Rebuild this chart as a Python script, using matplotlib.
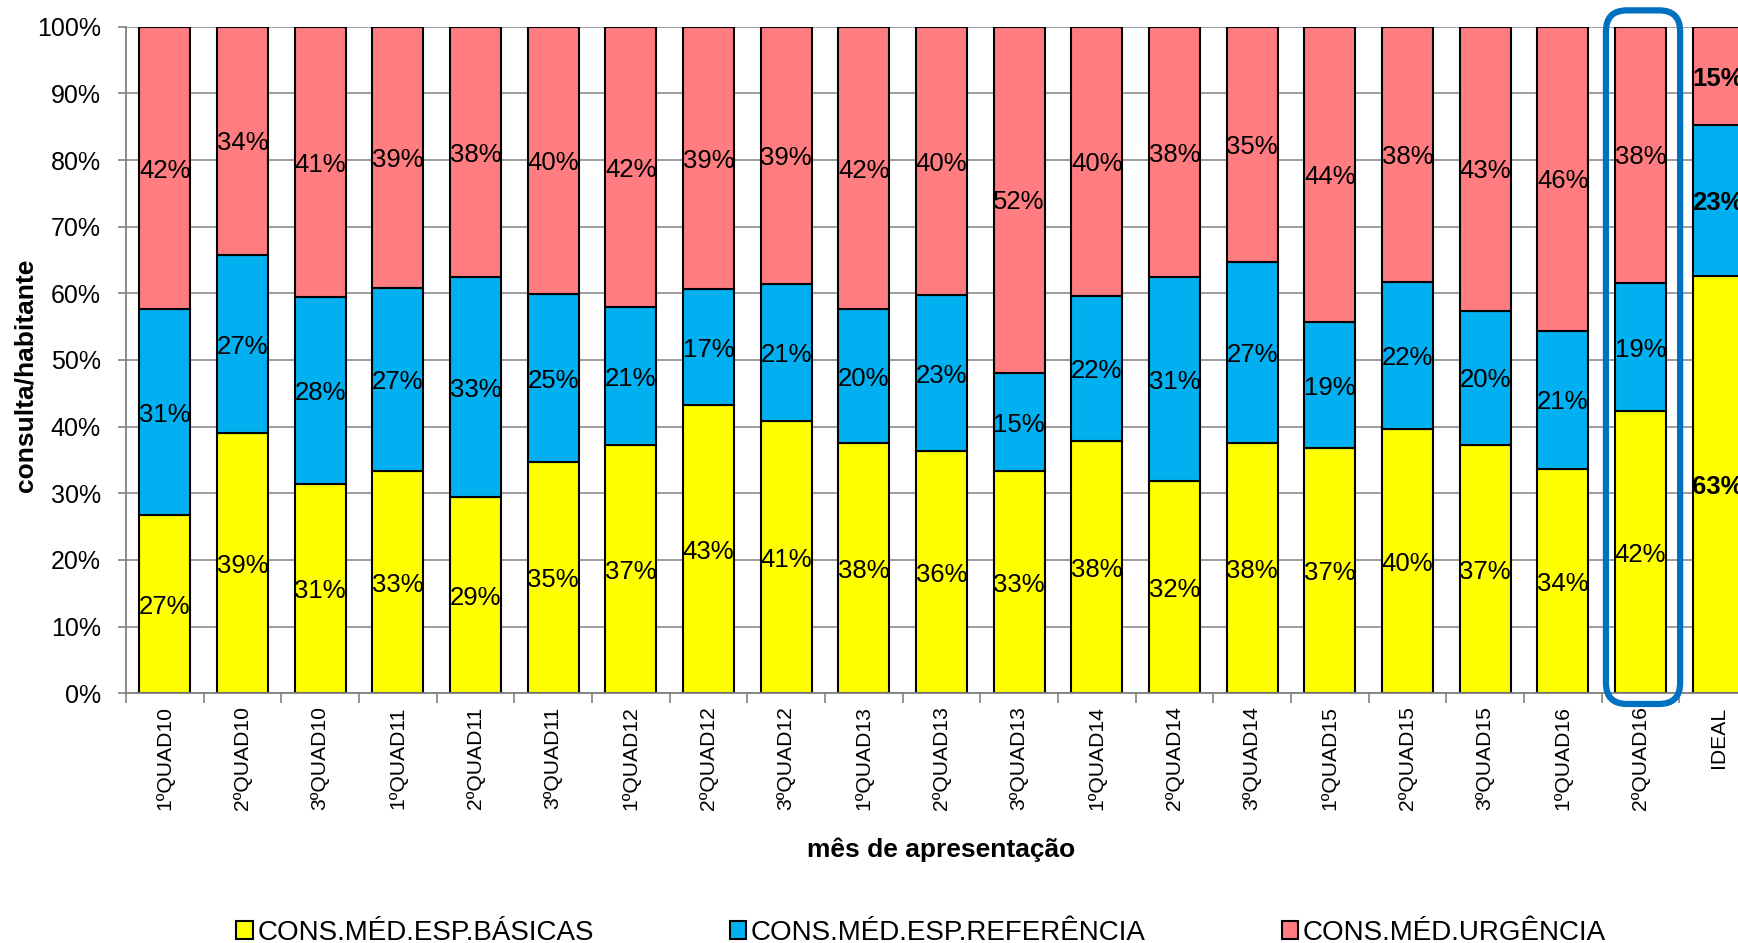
import matplotlib
matplotlib.use('Agg')
import matplotlib.pyplot as plt
from matplotlib.patches import FancyBboxPatch
import numpy as np

plt.rcParams['font.family'] = ['Liberation Sans', 'DejaVu Sans']

labels = ['1ºQUAD10', '2ºQUAD10', '3ºQUAD10', '1ºQUAD11', '2ºQUAD11', '3ºQUAD11',
          '1ºQUAD12', '2ºQUAD12', '3ºQUAD12', '1ºQUAD13', '2ºQUAD13', '3ºQUAD13',
          '1ºQUAD14', '2ºQUAD14', '3ºQUAD14', '1ºQUAD15', '2ºQUAD15', '3ºQUAD15',
          '1ºQUAD16', '2ºQUAD16', 'IDEAL']
basicas = [26.7, 39.0, 31.4, 33.4, 29.4, 34.7, 37.3, 43.3, 40.8, 37.6, 36.3, 33.3,
           37.8, 31.8, 37.6, 36.8, 39.6, 37.3, 33.7, 42.3, 62.6]
referencia = [30.9, 26.8, 28.0, 27.4, 33.0, 25.2, 20.6, 17.3, 20.6, 20.0, 23.4, 14.8,
              21.8, 30.6, 27.1, 18.9, 22.1, 20.1, 20.7, 19.3, 22.6]
urgencia = [42.4, 34.2, 40.6, 39.2, 37.6, 40.1, 42.1, 39.4, 38.6, 42.4, 40.3, 51.9,
            40.4, 37.6, 35.3, 44.3, 38.3, 42.6, 45.6, 38.4, 14.8]
series_names = ['CONS.MÉD.ESP.BÁSICAS', 'CONS.MÉD.ESP.REFERÊNCIA', 'CONS.MÉD.URGÊNCIA']
colors = ['#FFFF00', '#00B0F0', '#FF7C80']
highlight = '2ºQUAD16'

x = np.arange(len(labels))
width = 0.66

fig = plt.figure(figsize=(17.38, 9.43), dpi=100)
# axes runs past the right edge of the figure, like the original (IDEAL bar is cut)
ax = fig.add_axes([126 / 1738, 1 - 693.3 / 943, 1631 / 1738, 666.6 / 943])

bottom = np.zeros(len(labels))
for vals, name, col in zip([basicas, referencia, urgencia], series_names, colors):
    vals = np.array(vals)
    ax.bar(x, vals, width, bottom=bottom, color=col, edgecolor='black',
           linewidth=1.5, label=name, zorder=2)
    for i, v in enumerate(vals):
        bold = labels[i] == 'IDEAL'
        ax.annotate('{:.0f}%'.format(v), xy=(x[i], bottom[i] + v / 2),
                    xytext=(0, -2), textcoords='offset points',
                    ha='center', va='center', fontsize=18.5,
                    fontweight='bold' if bold else 'normal', zorder=4)
    bottom += vals

ax.set_xlim(-0.5, len(labels) - 0.5)
ax.set_ylim(0, 100)
ax.set_yticks(np.arange(0, 101, 10))
ax.set_yticklabels(['{}%'.format(v) for v in range(0, 101, 10)], fontsize=18)
ax.set_xticks(x)
ax.set_xticklabels(labels, rotation=90, fontsize=15.2)
ax.set_xticks(np.arange(-0.5, len(labels), 1), minor=True)
ax.tick_params(axis='x', which='major', length=0, pad=9.5)
ax.tick_params(axis='x', which='minor', length=7, color='#808080', width=1.2)
ax.tick_params(axis='y', length=5.8, color='#808080', width=1.2, pad=12.4)

ax.grid(axis='y', color='#8c8c8c', linewidth=1.2, zorder=0)
ax.set_axisbelow(True)
for s in ['top', 'right']:
    ax.spines[s].set_visible(False)
for s in ['left', 'bottom']:
    ax.spines[s].set_color('#808080')
    ax.spines[s].set_linewidth(1.3)

ax.set_ylabel('consulta/habitante', fontsize=19, fontweight='bold')
ax.yaxis.set_label_coords(-0.0619, 0.4764)
ax.yaxis.label.set_va('center')
ax.set_xlabel('mês de apresentação', fontsize=19, fontweight='bold')
ax.xaxis.set_label_coords(0.5, -0.235)
ax.xaxis.label.set_va('center')

# rounded highlight box around the latest period
hi = labels.index(highlight)
px = ax.transData.transform([(0, 0), (1, 1)])
aspect = (px[1][0] - px[0][0]) / (px[1][1] - px[0][1])
box = FancyBboxPatch((hi - 0.445, -1.6), 0.955, 104.05,
                     boxstyle='round,pad=0,rounding_size=0.27',
                     mutation_aspect=aspect, fill=False, edgecolor='#0070C0',
                     linewidth=4.5, clip_on=False, zorder=5)
ax.add_patch(box)

fig.legend(loc='center', bbox_to_anchor=(921 / 1738, 1 - 933 / 943), ncol=3,
           frameon=False, fontsize=20, handlelength=0.6, handleheight=0.6,
           handletextpad=0.15, columnspacing=4.9, borderpad=0)

fig.savefig('out.png', dpi=100)
